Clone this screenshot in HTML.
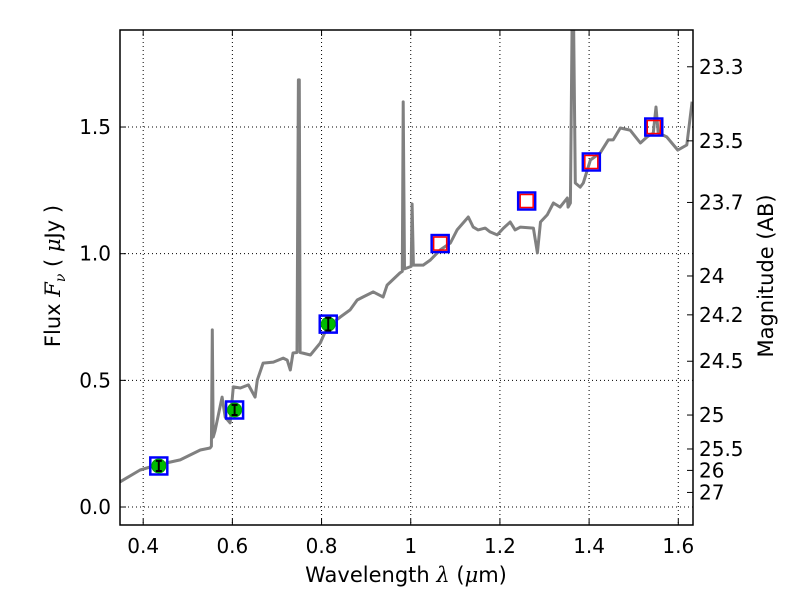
<!DOCTYPE html>
<html><head><meta charset="utf-8"><style>
body{margin:0;background:#fff}
svg{display:block;font-family:"DejaVu Sans","Liberation Sans",sans-serif}
</style></head><body>
<svg id="chart" width="800" height="600" viewBox="0 0 800 600" style="position:absolute;left:0;top:0"></svg>
<script>
const xTicks=[0.4,0.6,0.8,1.0,1.2,1.4,1.6];
const xTickLabels=["0.4","0.6","0.8","1","1.2","1.4","1.6"];
const yTicks=[0,0.5,1.0,1.5];
const yTickLabels=["0.0","0.5","1.0","1.5"];
const magTicks=[23.3,23.5,23.7,24,24.2,24.5,25,25.5,26,27];
const magLabels=["23.3","23.5","23.7","24","24.2","24.5","25","25.5","26","27"];
const specWave=[0.348,0.393,0.431,0.483,0.528,0.550,0.553,0.555,0.557,0.561,0.577,0.584,0.595,0.602,0.618,0.636,0.651,0.656,0.669,0.692,0.714,0.723,0.730,0.736,0.745,0.748,0.750,0.752,0.757,0.775,0.797,0.813,0.842,0.864,0.880,0.893,0.916,0.938,0.947,0.976,0.981,0.983,0.986,0.992,1.001,1.003,1.006,1.028,1.044,1.066,1.089,1.104,1.129,1.140,1.151,1.167,1.178,1.194,1.208,1.223,1.234,1.246,1.275,1.284,1.291,1.306,1.320,1.335,1.351,1.353,1.358,1.362,1.365,1.369,1.380,1.387,1.403,1.425,1.443,1.454,1.470,1.492,1.515,1.530,1.544,1.550,1.555,1.574,1.599,1.619,1.631];
const specFlux=[0.099,0.146,0.166,0.186,0.225,0.233,0.24,0.699,0.276,0.30,0.434,0.355,0.332,0.474,0.470,0.482,0.434,0.501,0.568,0.572,0.588,0.580,0.541,0.608,0.61,1.686,1.686,0.61,0.608,0.600,0.647,0.711,0.750,0.778,0.817,0.829,0.849,0.829,0.876,0.924,0.93,1.599,0.94,0.944,0.95,1.196,0.955,0.955,0.975,1.015,1.042,1.094,1.145,1.105,1.094,1.101,1.086,1.074,1.101,1.125,1.094,1.105,1.101,1.003,1.125,1.153,1.200,1.184,1.220,1.184,1.2,1.95,1.95,1.279,1.263,1.279,1.370,1.398,1.449,1.449,1.496,1.488,1.437,1.461,1.477,1.579,1.477,1.461,1.409,1.429,1.6];
const detWave=[0.435,0.605,0.815];
const detFlux=[0.162,0.383,0.722];
const detErr=[0.02,0.02,0.025];
const modelWave=[0.435,0.605,0.815,1.066,1.26,1.405,1.545];
const modelFlux=[0.162,0.383,0.722,1.04,1.208,1.362,1.50];
const predWave=[1.066,1.26,1.405,1.545];
const predFlux=[1.04,1.208,1.362,1.50];

const L=120,R=693,T=30,B=525;
const xMin=0.348,xMax=1.633,yMin=-0.071,yMax=1.883;
const sx=v=>L+(v-xMin)/(xMax-xMin)*(R-L);
const sy=v=>B-(v-yMin)/(yMax-yMin)*(B-T);
const magToFlux=m=>Math.pow(10,(23.9-m)/2.5);
const svg=document.getElementById('chart');
const NS='http://www.w3.org/2000/svg';
function mk(tag,attrs,parent){const e=document.createElementNS(NS,tag);for(const k in attrs)e.setAttribute(k,attrs[k]);(parent||svg).appendChild(e);return e;}

const defs=mk('defs',{});const cp=mk('clipPath',{id:'clip'},defs);mk('rect',{x:L,y:T,width:R-L,height:B-T},cp);

xTicks.forEach((t,i)=>{
  let g=mk('line',{x1:sx(t),x2:sx(t),y1:T,y2:B,stroke:'#000','stroke-width':1,'stroke-dasharray':'1,3'});
  
  
});
yTicks.forEach((t,i)=>{
  let g=mk('line',{x1:L,x2:R,y1:sy(t),y2:sy(t),stroke:'#000','stroke-width':1,'stroke-dasharray':'1,3'});
  
  
});

let d=specWave.map((w,i)=>(i?'L':'M')+sx(w).toFixed(1)+','+sy(specFlux[i]).toFixed(1)).join('');
let sp=mk('path',{d:d,fill:'none',stroke:'#808080','stroke-width':3,'stroke-linejoin':'round','clip-path':'url(#clip)'});



modelWave.forEach((w,i)=>{
  let r=mk('rect',{x:sx(w)-8.5,y:sy(modelFlux[i])-8.5,width:17,height:17,fill:'none',stroke:'#0000ff','stroke-width':2.5});
  
  
});
predWave.forEach((w,i)=>{
  let r=mk('rect',{x:sx(w)-6.5,y:sy(predFlux[i])-6.5,width:13,height:13,fill:'none',stroke:'#ff0000','stroke-width':1.5});
  
  
});
detWave.forEach((w,i)=>{
  const cx=sx(w),cy=sy(detFlux[i]);
  let c=mk('circle',{cx:cx,cy:cy,r:7,fill:'#00bb00',stroke:'#00a000','stroke-width':1});
  
  
  const y1=sy(detFlux[i]+detErr[i]),y2=sy(detFlux[i]-detErr[i]);
  let e=mk('path',{d:`M${cx},${y1}L${cx},${y2}M${cx-3},${y1}L${cx+3},${y1}M${cx-3},${y2}L${cx+3},${y2}`,stroke:'#000','stroke-width':2,fill:'none'});
  
  
});

let fr=mk('rect',{x:L,y:T,width:R-L,height:B-T,fill:'none',stroke:'#000','stroke-width':1.5});



xTicks.forEach((t,i)=>{
  mk('line',{x1:sx(t),x2:sx(t),y1:B,y2:B-6,stroke:'#000'});
  mk('line',{x1:sx(t),x2:sx(t),y1:T,y2:T+6,stroke:'#000'});
  let tx=mk('text',{x:sx(t),y:B+28,'font-size':20,'text-anchor':'middle'});
  tx.textContent=xTickLabels[i];
  
  
});
yTicks.forEach((t,i)=>{
  mk('line',{x1:L,x2:L+6,y1:sy(t),y2:sy(t),stroke:'#000'});
  let tx=mk('text',{x:L-9,y:sy(t)+7,'font-size':20,'text-anchor':'end'});
  tx.textContent=yTickLabels[i];
  
  
});
magTicks.forEach((m,i)=>{
  const y=sy(magToFlux(m));
  mk('line',{x1:R,x2:R-6,y1:y,y2:y,stroke:'#000'});
  let tx=mk('text',{x:R+6,y:y+7,'font-size':20});
  tx.textContent=magLabels[i];
  
  
});
</script>
<svg width="800" height="600" style="position:absolute;left:0;top:0;font-family:'DejaVu Sans','Liberation Sans',sans-serif">
<text x="406" y="582" font-size="21" text-anchor="middle">Wavelength  <tspan font-style="italic" font-family="'DejaVu Serif','Liberation Serif',serif">λ</tspan> (<tspan font-style="italic" font-family="'DejaVu Serif','Liberation Serif',serif">μ</tspan>m)</text>
<text transform="translate(60,276) rotate(-90)" font-size="21" text-anchor="middle">Flux  <tspan font-style="italic" font-family="'DejaVu Serif','Liberation Serif',serif">F<tspan font-size="14" dy="5">ν</tspan></tspan><tspan dy="-5">  ( </tspan><tspan font-style="italic" font-family="'DejaVu Serif','Liberation Serif',serif">μ</tspan>Jy )</text>
<text transform="translate(773,276) rotate(-90)" font-size="21" text-anchor="middle">Magnitude (AB)</text>
</svg>
</body></html>
